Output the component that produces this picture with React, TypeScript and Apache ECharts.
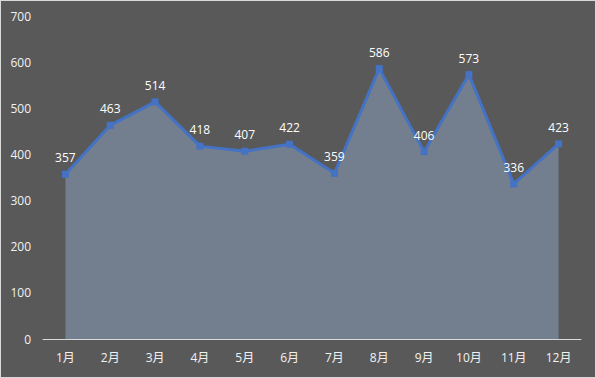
import React, { useEffect, useRef } from "react";
import * as echarts from "echarts";

const categories = ["1月", "2月", "3月", "4月", "5月", "6月", "7月", "8月", "9月", "10月", "11月", "12月"];
const values = [357, 463, 514, 418, 407, 422, 359, 586, 406, 573, 336, 423];

export default function App() {
  const ref = useRef<HTMLDivElement>(null);
  useEffect(() => {
    const chart = echarts.init(ref.current!, null, { renderer: "svg" });
    chart.setOption({
      animation: false,
      backgroundColor: "#595959",
      textStyle: { fontFamily: "'Open Sans', 'Noto Sans CJK SC', sans-serif" },
      grid: { left: 42, right: 14, top: 15, bottom: 38 },
      xAxis: {
        type: "category",
        data: categories,
        boundaryGap: true,
        axisLine: { lineStyle: { color: "#d9d9d9", width: 1 } },
        axisTick: { show: false },
        axisLabel: { color: "#f2f2f2", fontSize: 12, margin: 12 },
      },
      yAxis: {
        type: "value",
        min: 0,
        max: 700,
        interval: 100,
        splitLine: { show: false },
        axisLine: { show: false },
        axisTick: { show: false },
        axisLabel: { color: "#f2f2f2", fontSize: 12, margin: 12 },
      },
      series: [
        {
          type: "line",
          data: values,
          symbol: "rect",
          symbolSize: 7,
          lineStyle: { color: "#4472C4", width: 3 },
          itemStyle: { color: "#4472C4" },
          areaStyle: { color: "#737f8e", opacity: 1 },
          label: {
            show: true,
            position: "top",
            distance: 7,
            color: "#ffffff",
            fontSize: 12,
          },
        },
      ],
    });
    return () => chart.dispose();
  }, []);
  return (
    <div
      ref={ref}
      style={{
        position: "fixed",
        left: 0,
        top: 0,
        width: 596,
        height: 378,
        boxSizing: "border-box",
        border: "1px solid #d9d9d9",
      }}
    />
  );
}
